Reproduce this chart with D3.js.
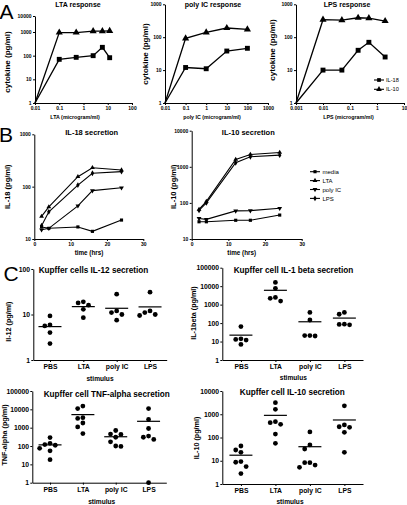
<!DOCTYPE html>
<html><head><meta charset="utf-8">
<script src="https://cdn.jsdelivr.net/npm/d3@7"></script>
<style>body{margin:0;background:#fff}svg{display:block}</style>
</head><body><svg id="chart" width="407" height="505"></svg>
<script>
// ---------- Panel A: dose response ----------
const seriesA = ["IL-18", "IL-10"];
const ltaDose  = [0.01, 0.1, 0.5, 2.5, 6, 12];
const ltaIL18  = [1, 70, 85, 100, 225, 82];
const ltaIL10  = [1, 950, 950, 1130, 1130, 1180];
const polyDose = [0.01, 0.1, 1, 10, 100];
const polyIL18 = [1, 12, 11, 38, 46];
const polyIL10 = [1, 92, 140, 190, 172];
const lpsDose  = [0.001, 0.01, 0.05, 0.2, 0.5, 2];
const lpsIL18  = [1, 10, 10, 40, 70, 25];
const lpsIL10  = [1, 340, 330, 390, 380, 310];

// ---------- Panel B: time course ----------
const seriesB = ["media", "LTA", "poly IC", "LPS"];
const timeHrs = [2, 4, 12, 16, 24];
const il18Media = [17, 16, 17, 14, 23];
const il18LTA   = [27, 41, 155, 230, 208];
const il18Poly  = [15, 16, 43, 84, 95];
const il18LPS   = [18, 33, 107, 180, 194];
const il10Media = [30, 30, 33, 33, 46];
const il10LTA   = [66, 110, 1600, 2200, 2500];
const il10Poly  = [37, 35, 60, 61, 71];
const il10LPS   = [62, 100, 1300, 1900, 2100];

// ---------- Panel C: Kupffer cell scatter ----------
const stimuli = ["PBS", "LTA", "poly IC", "LPS"];
const il12Values = [[9.3, 5.9, 5.6, 4.0, 2.3], [19, 18, 16, 13, 8.5], [28, 12, 11, 10, 7.5], [31, 12, 11, 10, 9.5]];
const il1bValues = [[65, 14, 13, 12, 7], [16000, 7600, 2460, 2200, 1560], [380, 147, 21, 20, 21], [380, 300, 85, 80, 87]];
const tnfValues  = [[290, 140, 120, 110, 75, 55, 18], [15000, 11000, 3500, 3200, 1800, 1100, 480], [700, 450, 430, 300, 170, 100, 95], [11000, 2800, 900, 350, 300, 230, 1]];
const il10Values = [[43, 29, 23, 8.6, 9.2, 5.6, 2.8], [3160, 1630, 480, 370, 435, 141, 56], [173, 48, 32, 8.3, 8.3, 6.5, 5.2], [2300, 347, 275, 290, 167, 23]];

const FONT = '"Liberation Sans", Arial, Helvetica, sans-serif';
const svg = d3.select("#chart");
const fmt = d => String(d);

function styleAxis(g, fs) {
  g.attr("font-family", FONT).attr("font-size", fs).attr("font-weight", "bold");
  g.select(".domain").attr("stroke", "#000").attr("stroke-width", 1);
  g.selectAll(".tick line").attr("stroke", "#000").attr("stroke-width", 1);
  g.selectAll(".tick text").attr("fill", "#000");
}
function label(x, y, str, fs, o = {}) {
  const t = svg.append("text").attr("x", x).attr("y", y).attr("dy", "0.35em").text(str)
    .attr("font-family", FONT).attr("font-size", fs)
    .attr("font-weight", o.weight || "bold")
    .attr("text-anchor", o.anchor || "middle").attr("fill", "#000");
  if (o.rotate) t.attr("transform", `rotate(-90,${x},${y})`);
  return t;
}
function marker(g, type, cx, cy, size) {
  const t = type === "square" ? d3.symbolSquare : type === "diamond" ? d3.symbolDiamond : d3.symbolTriangle;
  g.append("path").attr("d", d3.symbol().type(t).size(size)())
    .attr("transform", `translate(${cx},${cy})${type === "down" ? " rotate(180)" : ""}`)
    .attr("fill", "#000");
}

// panel letters
label(-0.5, 11.9, "A", 21, {anchor: "start", weight: "normal"});
label(-1, 135, "B", 21, {anchor: "start", weight: "normal"});
label(3.5, 273.7, "C", 21, {anchor: "start", weight: "normal"});

// ---------- draw A ----------
const panelsA = [
  {title: "LTA response", xTitle: "LTA (microgram/ml)", dose: ltaDose, vals: [ltaIL18, ltaIL10],
   xDomain: [0.01, 100], xRange: [35, 132], xTicks: [0.01, 0.1, 1, 10, 100],
   yDomain: [1, 1000, 10000], yRange: [103, 32, 16], yTicks: [1, 10, 100, 1000, 10000],
   titlePos: [78, 4.5], xTitlePos: [75, 117.5], yTitlePos: [7, 62], legend: null},
  {title: "poly IC response", xTitle: "poly IC (microgram/ml)", dose: polyDose, vals: [polyIL18, polyIL10],
   xDomain: [0.01, 1000], xRange: [165, 268], xTicks: [0.01, 0.1, 1, 10, 100, 1000],
   yDomain: [1, 1000], yRange: [103, 4.3], yTicks: [1, 10, 100, 1000],
   titlePos: [213, 4.5], xTitlePos: [212, 117.5], yTitlePos: [145.5, 54], legend: null},
  {title: "LPS response", xTitle: "LPS (microgram/ml)", dose: lpsDose, vals: [lpsIL18, lpsIL10],
   xDomain: [0.001, 10], xRange: [296, 404], xTicks: [0.001, 0.01, 0.1, 1, 10],
   yDomain: [1, 1000], yRange: [103, 4.3], yTicks: [1, 10, 100, 1000],
   titlePos: [347, 4.5], xTitlePos: [348.5, 117.5], yTitlePos: [272.5, 50], legend: [374, 80]}
];
const markA = ["square", "up"];
panelsA.forEach(p => {
  const x = d3.scaleLog().domain(p.xDomain).range(p.xRange);
  const y = d3.scaleLog().domain(p.yDomain).range(p.yRange);
  const gx = svg.append("g").attr("transform", `translate(0,${p.yRange[0]})`)
    .call(d3.axisBottom(x).tickValues(p.xTicks).tickFormat(fmt).tickSize(2).tickSizeOuter(0).tickPadding(1.5));
  styleAxis(gx, 5);
  const gy = svg.append("g").attr("transform", `translate(${p.xRange[0]},0)`)
    .call(d3.axisLeft(y).tickValues(p.yTicks).tickFormat(fmt).tickSize(2).tickSizeOuter(0).tickPadding(1.5));
  styleAxis(gy, 5);
  const line = d3.line().x((d, i) => x(p.dose[i])).y(d => y(d));
  p.vals.forEach((v, s) => {
    svg.append("path").attr("d", line(v)).attr("fill", "none").attr("stroke", "#000").attr("stroke-width", 1.3);
    const g = svg.append("g");
    v.forEach((d, i) => { if (i > 0) marker(g, markA[s], x(p.dose[i]), y(d), s === 0 ? 24 : 22); });
  });
  label(p.titlePos[0], p.titlePos[1], p.title, 7);
  label(p.xTitlePos[0], p.xTitlePos[1], p.xTitle, 5.3);
  label(p.yTitlePos[0], p.yTitlePos[1], "cytokine (pg/ml)", 8, {rotate: true});
  if (p.legend) {
    seriesA.forEach((name, s) => {
      const ly = p.legend[1] + s * 9.3;
      svg.append("line").attr("x1", p.legend[0]).attr("x2", p.legend[0] + 10).attr("y1", ly).attr("y2", ly)
        .attr("stroke", "#000").attr("stroke-width", 1.1);
      marker(svg.append("g"), markA[s], p.legend[0] + 5, ly, 14);
      label(p.legend[0] + 12, ly, name, 5.6, {anchor: "start", weight: "normal"});
    });
  }
});

// ---------- draw B ----------
const markB = ["square", "up", "down", "diamond"];
const panelsB = [
  {title: "IL-18 secretion", yTitle: "IL-18 (pg/ml)", vals: [il18Media, il18LTA, il18Poly, il18LPS],
   xRange: [34.3, 143.3], yDomain: [10, 1000], yRange: [239, 134.3], yTicks: [10, 100, 1000],
   titlePos: [91.7, 132.3], xTitlePos: [89, 252.7], yTitlePos: [7, 186.7]},
  {title: "IL-10 secretion", yTitle: "IL-10 (pg/ml)", vals: [il10Media, il10LTA, il10Poly, il10LPS],
   xRange: [191.7, 301.7], yDomain: [10, 10000], yRange: [239, 130.7], yTicks: [10, 100, 1000, 10000],
   titlePos: [248.3, 132.3], xTitlePos: [241.7, 252.7], yTitlePos: [173.3, 186.7]}
];
panelsB.forEach(p => {
  const x = d3.scaleLinear().domain([0, 30]).range(p.xRange);
  const y = d3.scaleLog().domain(p.yDomain).range(p.yRange);
  const gx = svg.append("g").attr("transform", `translate(0,${p.yRange[0]})`)
    .call(d3.axisBottom(x).tickValues([0, 10, 20, 30]).tickSize(2).tickSizeOuter(0).tickPadding(1.5));
  styleAxis(gx, 5);
  const gy = svg.append("g").attr("transform", `translate(${p.xRange[0]},0)`)
    .call(d3.axisLeft(y).tickValues(p.yTicks).tickFormat(fmt).tickSize(2).tickSizeOuter(0).tickPadding(1.5));
  styleAxis(gy, 5);
  const line = d3.line().x((d, i) => x(timeHrs[i])).y(d => y(d));
  p.vals.forEach((v, s) => {
    svg.append("path").attr("d", line(v)).attr("fill", "none").attr("stroke", "#000").attr("stroke-width", 1.1);
    const g = svg.append("g");
    v.forEach((d, i) => marker(g, markB[s], x(timeHrs[i]), y(d), 10));
  });
  label(p.titlePos[0], p.titlePos[1], p.title, 7.5);
  label(p.xTitlePos[0], p.xTitlePos[1], "time (hrs)", 6.3);
  label(p.yTitlePos[0], p.yTitlePos[1], p.yTitle, 7.5, {rotate: true});
});
// B legend
seriesB.forEach((name, s) => {
  const ly = 171.7 + s * 8.9;
  svg.append("line").attr("x1", 310).attr("x2", 320).attr("y1", ly).attr("y2", ly).attr("stroke", "#000").attr("stroke-width", 1.1);
  marker(svg.append("g"), markB[s], 315, ly, 10);
  label(322.5, ly, name, 6, {anchor: "start", weight: "normal"});
});

// ---------- draw C ----------
const panelsC = [
  {title: "Kupffer cells IL-12 secretion", yTitle: "Il-12 (pg/ml)", vals: il12Values,
   xRange: [33.3, 166.7], pad: 0.5, yDomain: [1, 100], yRange: [360, 269], yTicks: [1, 10, 100],
   titlePos: [93.5, 270], xTitlePos: [100, 378.3], yTitlePos: [8.3, 321.7]},
  {title: "Kupffer cell IL-1 beta secretion", yTitle: "IL-1beta (pg/ml)", vals: il1bValues,
   xRange: [222.3, 363], pad: 0.54, yDomain: [1, 100000], yRange: [360, 267.7], yTicks: [1, 10, 100, 1000, 10000, 100000],
   titlePos: [293.5, 270], xTitlePos: [293.3, 378], yTitlePos: [193.3, 313]},
  {title: "Kupffer cell TNF-alpha secretion", yTitle: "TNF-alpha (pg/ml)", vals: tnfValues,
   xRange: [32.3, 166.3], pad: 0.54, yDomain: [1, 100000], yRange: [482.7, 391], yTicks: [1, 10, 100, 1000, 10000, 100000],
   titlePos: [106.7, 394.3], xTitlePos: [101.7, 501.7], yTitlePos: [4.5, 435]},
  {title: "Kupffer cell IL-10 secretion", yTitle: "IL-10 (pg/ml)", vals: il10Values,
   xRange: [222.3, 363], pad: 0.54, yDomain: [1, 10000], yRange: [484, 391], yTicks: [1, 10, 100, 1000, 10000],
   titlePos: [292.3, 391.7], xTitlePos: [290, 501.7], yTitlePos: [196.7, 438]}
];
const R = 2.4, D = 5.2;
panelsC.forEach(p => {
  const x = d3.scalePoint().domain(stimuli).range(p.xRange).padding(p.pad);
  const y = d3.scaleLog().domain(p.yDomain).range(p.yRange);
  const gx = svg.append("g").attr("transform", `translate(0,${p.yRange[0]})`)
    .call(d3.axisBottom(x).tickSize(2).tickSizeOuter(0).tickPadding(2));
  styleAxis(gx, 6.8);
  const gy = svg.append("g").attr("transform", `translate(${p.xRange[0]},0)`)
    .call(d3.axisLeft(y).tickValues(p.yTicks).tickFormat(fmt).tickSize(2).tickSizeOuter(0).tickPadding(1.2));
  styleAxis(gy, 6.8);
  const g = svg.append("g");
  p.vals.forEach((vals, c) => {
    const cx = x(stimuli[c]);
    // simple beeswarm: spread dots that would overlap
    const placed = [];
    vals.map(v => y(v)).sort((a, b) => a - b).forEach(py => {
      const cands = [0, -D, D, -2 * D, 2 * D, -3 * D, 3 * D];
      let off = cands.find(o => placed.every(q => Math.hypot(q[0] - o, q[1] - py) >= D - 0.01));
      if (off === undefined) off = 0;
      placed.push([off, py]);
    });
    placed.forEach(([o, py]) => g.append("circle").attr("cx", cx + o).attr("cy", py).attr("r", R).attr("fill", "#000"));
    const m = y(d3.mean(vals));
    g.append("line").attr("x1", cx - 11.5).attr("x2", cx + 11.5).attr("y1", m).attr("y2", m)
      .attr("stroke", "#000").attr("stroke-width", 1.2);
  });
  label(p.titlePos[0], p.titlePos[1], p.title, 8.2);
  label(p.xTitlePos[0], p.xTitlePos[1], "stimulus", 6.6);
  label(p.yTitlePos[0], p.yTitlePos[1], p.yTitle, 7.2, {rotate: true});
});
</script></body></html>
